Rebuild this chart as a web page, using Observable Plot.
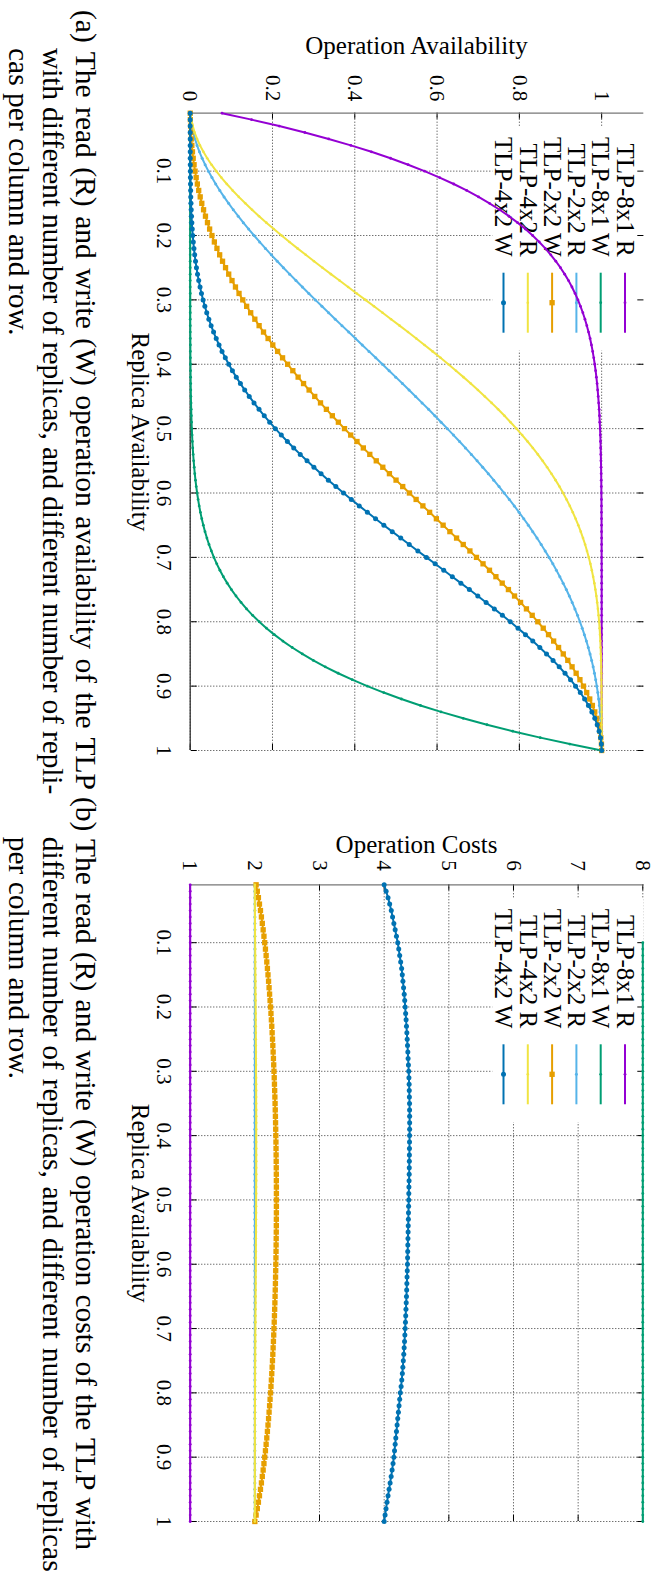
<!DOCTYPE html>
<html><head><meta charset="utf-8">
<script src="https://cdn.jsdelivr.net/npm/d3@7"></script>
<script src="https://cdn.jsdelivr.net/npm/@observablehq/plot@0.6"></script>
<style>
html,body{margin:0;padding:0;background:#fff;overflow:hidden;}
#page{position:absolute;left:0;top:0;width:1573px;height:656px;transform-origin:0 0;transform:translateX(656px) rotate(90deg);font-family:"Liberation Serif",serif;color:#000;background:#fff;}
.sub{position:absolute;top:0;}
.cl{position:absolute;font-size:29.5px;line-height:33.3px;height:33.3px;white-space:nowrap;text-align:justify;text-align-last:justify;}
.cl.last{text-align-last:left;text-align:left;}
</style></head><body><div id="page">
<div class="sub" id="subA" style="left:0;width:786px;"></div>
<div class="sub" id="subB" style="left:786px;width:787px;"></div>
<div class="cl" style="left:10px;top:554px;width:780px;">(a) The read (R) and write (W) operation availability of the TLP</div>
<div class="cl" style="left:48px;top:587.3px;width:739px;letter-spacing:-0.15px;">with different number of replicas, and different number of repli-</div>
<div class="cl last" style="left:48px;top:620.6px;">cas per column and row.</div>
<div class="cl" style="left:797px;top:554px;width:753px;">(b) The read (R) and write (W) operation costs of the TLP with</div>
<div class="cl" style="left:836.7px;top:587.3px;width:735px;">different number of replicas, and different number of replicas</div>
<div class="cl last" style="left:836.7px;top:620.6px;">per column and row.</div>
</div>
<script>
const p = [
0.01,0.02,0.03,0.04,0.05,0.06,0.07,0.08,0.09,0.10,
0.11,0.12,0.13,0.14,0.15,0.16,0.17,0.18,0.19,0.20,
0.21,0.22,0.23,0.24,0.25,0.26,0.27,0.28,0.29,0.30,
0.31,0.32,0.33,0.34,0.35,0.36,0.37,0.38,0.39,0.40,
0.41,0.42,0.43,0.44,0.45,0.46,0.47,0.48,0.49,0.50,
0.51,0.52,0.53,0.54,0.55,0.56,0.57,0.58,0.59,0.60,
0.61,0.62,0.63,0.64,0.65,0.66,0.67,0.68,0.69,0.70,
0.71,0.72,0.73,0.74,0.75,0.76,0.77,0.78,0.79,0.80,
0.81,0.82,0.83,0.84,0.85,0.86,0.87,0.88,0.89,0.90,
0.91,0.92,0.93,0.94,0.95,0.96,0.97,0.98,0.99,1.00];

const seriesNames = ["TLP-8x1 R","TLP-8x1 W","TLP-2x2 R","TLP-2x2 W","TLP-4x2 R","TLP-4x2 W"];
const xTicks = [0.1,0.2,0.3,0.4,0.5,0.6,0.7,0.8,0.9,1];
const availTicks = [0,0.2,0.4,0.6,0.8,1];
const costTicks = [1,2,3,4,5,6,7,8];

// Operation availability
const avail8x1R = [
.0773,.1492,.2163,.2786,.3366,.3904,.4404,.4868,.5297,.5695,
.6063,.6404,.6718,.7008,.7275,.7521,.7748,.7956,.8147,.8322,
.8483,.8630,.8764,.8887,.8999,.9101,.9194,.9278,.9354,.9424,
.9486,.9543,.9594,.9640,.9681,.9719,.9752,.9782,.9808,.9832,
.9853,.9872,.9889,.9903,.9916,.9928,.9938,.9947,.9954,.9961,
.9967,.9972,.9976,.998,.9983,.9986,.9988,.999,.9992,.9993,
.9995,.9996,.9996,.9997,.9998,.9998,.9999,.9999,.9999,.9999,
1,1,1,1,1,1,1,1,1,1,
1,1,1,1,1,1,1,1,1,1,
1,1,1,1,1,1,1,1,1,1];
const avail8x1W = [
0,0,0,0,0,0,0,0,0,0,
0,0,0,0,0,0,0,0,0,0,
0,0,0,0,0,0,0,0,.0001,.0001,
.0001,.0001,.0001,.0002,.0002,.0003,.0004,.0004,.0005,.0007,
.0008,.001,.0012,.0014,.0017,.002,.0024,.0028,.0033,.0039,
.0046,.0053,.0062,.0072,.0084,.0097,.0111,.0128,.0147,.0168,
.0192,.0218,.0248,.0281,.0319,.036,.0406,.0457,.0514,.0576,
.0646,.0722,.0806,.0899,.1001,.1113,.1236,.137,.1517,.1678,
.1853,.2044,.2252,.2479,.2725,.2992,.3282,.3596,.3937,.4305,
.4703,.5132,.5596,.6096,.6634,.7214,.7837,.8508,.9227,1];
const avail2x2R = [
.0005,.002,.0043,.0076,.0118,.0167,.0225,.029,.0363,.0442,
.0528,.062,.0719,.0823,.0933,.1047,.1167,.1291,.142,.1552,
.1688,.1828,.1971,.2117,.2266,.2417,.257,.2726,.2883,.3042,
.3202,.3364,.3526,.3689,.3853,.4017,.4181,.4345,.4509,.4672,
.4835,.4997,.5158,.5319,.5478,.5635,.5792,.5946,.6099,.625,
.6399,.6546,.669,.6833,.6973,.711,.7245,.7377,.7506,.7632,
.7755,.7876,.7993,.8107,.8218,.8325,.8429,.853,.8628,.8722,
.8813,.89,.8984,.9064,.9141,.9214,.9284,.935,.9413,.9472,
.9528,.958,.9629,.9675,.9718,.9757,.9793,.9826,.9855,.9882,
.9906,.9927,.9945,.996,.9973,.9983,.999,.9996,.9999,1];
const avail2x2W = [
.0001,.0004,.001,.0017,.0027,.004,.0055,.0073,.0094,.0118,
.0145,.0174,.0207,.0243,.0282,.0325,.0371,.042,.0472,.0528,
.0587,.065,.0716,.0786,.0859,.0936,.1016,.11,.1187,.1278,
.1372,.147,.1571,.1675,.1782,.1893,.2007,.2124,.2245,.2368,
.2494,.2623,.2755,.289,.3027,.3167,.331,.3454,.3601,.375,
.3901,.4054,.4208,.4365,.4522,.4681,.4842,.5003,.5165,.5328,
.5491,.5655,.5819,.5983,.6147,.6311,.6474,.6636,.6798,.6958,
.7117,.7274,.743,.7583,.7734,.7883,.8029,.8172,.8312,.8448,
.858,.8709,.8833,.8953,.9067,.9177,.9281,.938,.9472,.9558,
.9637,.971,.9775,.9833,.9882,.9924,.9957,.998,.9995,1];
const avail4x2R = [
.0007,.0027,.0062,.0108,.0167,.0238,.0321,.0414,.0519,.0633,
.0757,.089,.1032,.1181,.1339,.1503,.1674,.1851,.2033,.2221,
.2413,.2608,.2808,.301,.3215,.3421,.3629,.3838,.4048,.4258,
.4467,.4676,.4883,.5089,.5293,.5495,.5694,.5891,.6084,.6274,
.646,.6642,.6819,.6993,.7161,.7325,.7484,.7638,.7786,.793,
.8068,.82,.8327,.8449,.8565,.8675,.878,.888,.8974,.9063,
.9147,.9226,.9299,.9368,.9432,.9492,.9547,.9598,.9644,.9687,
.9726,.9761,.9793,.9822,.9848,.9871,.9891,.9909,.9925,.9938,
.995,.996,.9968,.9975,.9981,.9986,.9989,.9992,.9995,.9996,
.9998,.9999,.9999,1,1,1,1,1,1,1];
const avail4x2W = [
0,0,0,0,0,0,.0001,.0001,.0002,.0004,
.0005,.0008,.0011,.0014,.0019,.0025,.0032,.004,.005,.0062,
.0075,.0091,.0109,.0129,.0152,.0178,.0207,.0239,.0274,.0313,
.0356,.0402,.0453,.0508,.0568,.0632,.0701,.0774,.0853,.0937,
.1026,.112,.122,.1325,.1435,.1551,.1673,.18,.1932,.207,
.2214,.2362,.2516,.2675,.2839,.3007,.3181,.3358,.354,.3726,
.3916,.4109,.4306,.4505,.4707,.4911,.5117,.5324,.5533,.5742,
.5952,.6162,.6371,.6579,.6785,.699,.7192,.7392,.7587,.7779,
.7967,.8149,.8326,.8497,.8661,.8819,.8968,.911,.9243,.9367,
.9481,.9586,.9679,.9762,.9833,.9892,.9938,.9973,.9993,1];

// Operation costs
const cost8x1R = [
1,1,1,1,1,1,1,1,1,1, 1,1,1,1,1,1,1,1,1,1,
1,1,1,1,1,1,1,1,1,1, 1,1,1,1,1,1,1,1,1,1,
1,1,1,1,1,1,1,1,1,1, 1,1,1,1,1,1,1,1,1,1,
1,1,1,1,1,1,1,1,1,1, 1,1,1,1,1,1,1,1,1,1,
1,1,1,1,1,1,1,1,1,1, 1,1,1,1,1,1,1,1,1,1];
const cost8x1W = [
null,null,null,null,null,null,null,null,null,8,
8,8,8,8,8,8,8,8,8,8, 8,8,8,8,8,8,8,8,8,8,
8,8,8,8,8,8,8,8,8,8, 8,8,8,8,8,8,8,8,8,8,
8,8,8,8,8,8,8,8,8,8, 8,8,8,8,8,8,8,8,8,8,
8,8,8,8,8,8,8,8,8,8, 8,8,8,8,8,8,8,8,8,8,
8,8,8,8,8,8,8,8,8,8];
const cost2x2R = [
2,2,2,2,2,2,2,2,2,2, 2,2,2,2,2,2,2,2,2,2,
2,2,2,2,2,2,2,2,2,2, 2,2,2,2,2,2,2,2,2,2,
2,2,2,2,2,2,2,2,2,2, 2,2,2,2,2,2,2,2,2,2,
2,2,2,2,2,2,2,2,2,2, 2,2,2,2,2,2,2,2,2,2,
2,2,2,2,2,2,2,2,2,2, 2,2,2,2,2,2,2,2,2,2];
const cost2x2W = [
2.0194,2.0377,2.055,2.0713,2.0868,2.1014,2.1152,2.1283,2.1407,2.1525,
2.1637,2.1744,2.1845,2.1941,2.2032,2.2119,2.2201,2.2279,2.2354,2.2424,
2.2491,2.2555,2.2616,2.2673,2.2727,2.2779,2.2827,2.2873,2.2917,2.2958,
2.2996,2.3032,2.3066,2.3098,2.3127,2.3154,2.318,2.3203,2.3224,2.3243,
2.3261,2.3276,2.3289,2.3301,2.3311,2.3319,2.3325,2.333,2.3332,2.3333,
2.3332,2.333,2.3325,2.3319,2.3311,2.3301,2.3289,2.3276,2.3261,2.3243,
2.3224,2.3203,2.318,2.3154,2.3127,2.3098,2.3066,2.3032,2.2996,2.2958,
2.2917,2.2873,2.2827,2.2779,2.2727,2.2673,2.2616,2.2555,2.2491,2.2424,
2.2354,2.2279,2.2201,2.2119,2.2032,2.1941,2.1845,2.1744,2.1637,2.1525,
2.1407,2.1283,2.1152,2.1014,2.0868,2.0713,2.055,2.0377,2.0194,2];
const cost4x2R = [
2,2,2,2.001,2.001,2.002,2.002,2.003,2.003,2.004,
2.005,2.006,2.006,2.007,2.008,2.009,2.009,2.01,2.011,2.012,
2.013,2.013,2.014,2.015,2.015,2.016,2.017,2.017,2.018,2.018,
2.019,2.019,2.02,2.02,2.02,2.021,2.021,2.021,2.021,2.021,
2.021,2.021,2.021,2.021,2.021,2.021,2.021,2.02,2.02,2.02,
2.019,2.019,2.018,2.018,2.018,2.017,2.016,2.016,2.015,2.015,
2.014,2.013,2.013,2.012,2.011,2.011,2.01,2.009,2.009,2.008,
2.007,2.007,2.006,2.006,2.005,2.004,2.004,2.003,2.003,2.003,
2.002,2.002,2.002,2.001,2.001,2.001,2.001,2,2,2,
2,2,2,2,2,2,2,2,2,2];
const cost4x2W = [
4,4.03,4.06,4.085,4.11,4.13,4.15,4.17,4.19,4.21,
4.225,4.24,4.255,4.27,4.28,4.29,4.3,4.31,4.318,4.325,
4.332,4.339,4.345,4.351,4.356,4.361,4.366,4.37,4.375,4.38,
4.383,4.386,4.388,4.39,4.392,4.393,4.394,4.394,4.394,4.393,
4.392,4.391,4.39,4.389,4.388,4.387,4.385,4.383,4.381,4.38,
4.378,4.376,4.374,4.372,4.37,4.368,4.366,4.364,4.362,4.36,
4.357,4.354,4.351,4.348,4.345,4.341,4.337,4.333,4.329,4.325,
4.32,4.315,4.309,4.303,4.296,4.289,4.281,4.272,4.262,4.25,
4.24,4.23,4.22,4.21,4.2,4.19,4.18,4.17,4.16,4.15,
4.137,4.123,4.108,4.092,4.076,4.06,4.044,4.029,4.014,4];

const FONT = "Liberation Serif";
const styles = [
  {color:"#9400d3", symbol:"circle", r:1.4},
  {color:"#009e73", symbol:"circle", r:1.4},
  {color:"#56b4e9", symbol:"circle", r:1.5},
  {color:"#e69f00", symbol:"square", r:3.0},
  {color:"#f0e442", symbol:"circle", r:1.3},
  {color:"#0072b2", symbol:"circle", r:2.5}
];

function legendBox(index, scales, values, dim) {
  const g = d3.create("svg:g");
  g.append("rect").attr("x", dim.marginLeft + 14).attr("y", dim.marginTop)
    .attr("width", 224).attr("height", 151).attr("fill", "#fff");
  return g.node();
}
function legendEntries(index, scales, values, dim) {
  const g = d3.create("svg:g").attr("font-family", FONT).attr("font-size", 25).attr("fill", "#000");
  seriesNames.forEach((name, i) => {
    const st = styles[i];
    const y = dim.marginTop + 18.3 + 24.3 * i;
    g.append("text").attr("x", dim.marginLeft + 144).attr("y", y).attr("dy", "0.33em")
      .attr("text-anchor", "end").text(name);
    g.append("line").attr("x1", dim.marginLeft + 160).attr("x2", dim.marginLeft + 220)
      .attr("y1", y).attr("y2", y).attr("stroke", st.color).attr("stroke-width", 2);
    const cx = dim.marginLeft + 190;
    if (st.symbol === "square") {
      const s = st.r * Math.sqrt(Math.PI);
      g.append("rect").attr("x", cx - s / 2).attr("y", y - s / 2).attr("width", s).attr("height", s).attr("fill", st.color);
    } else {
      g.append("circle").attr("cx", cx).attr("cy", y).attr("r", st.r).attr("fill", st.color);
    }
  });
  return g.node();
}

function chart({series, yDomain, yTicks, width, marginLeft, marginRight, yLabel, yLabelDx, yTickPad}) {
  const H = 550, mt = 12.7, bottom = 465.3;
  const plotH = bottom - mt, plotW = width - marginLeft - marginRight;
  const tick = {stroke: "#000", strokeOpacity: 1, strokeWidth: 1};
  const marks = [
    Plot.gridX(xTicks, {stroke: "#000", strokeOpacity: 0.8, strokeWidth: 1, strokeDasharray: "1,2"}),
    Plot.gridY(yTicks, {stroke: "#000", strokeOpacity: 0.8, strokeWidth: 1, strokeDasharray: "1,2"}),
    legendBox,
    Plot.gridX(xTicks, {...tick, insetTop: plotH - 6}),
    Plot.gridX(xTicks, {...tick, insetBottom: plotH - 6}),
    Plot.gridY(yTicks, {...tick, insetRight: plotW - 6}),
    Plot.gridY(yTicks, {...tick, insetLeft: plotW - 6}),
    Plot.ruleX([p[0]], {stroke: "#777", strokeWidth: 1.3}),
    Plot.ruleY([yDomain[0]], {stroke: "#333", strokeWidth: 1.3}),
    legendEntries
  ];
  series.forEach((vals, k) => {
    const st = styles[k];
    const rows = p.map((x, i) => ({p: x, v: vals[i]}));
    marks.push(Plot.line(rows, {x: "p", y: "v", stroke: st.color, strokeWidth: 2}));
    marks.push(Plot.dot(rows, {x: "p", y: "v", fill: st.color, r: st.r, symbol: st.symbol, stroke: "none"}));
  });
  marks.push(
    Plot.axisX(xTicks, {tickSize: 0, tickPadding: 18.5, fontSize: 21, fontFamily: FONT, label: null, tickFormat: d => String(d)}),
    Plot.axisY(yTicks, {tickSize: 0, tickPadding: yTickPad, fontSize: 21, fontFamily: FONT, label: null, tickFormat: d => String(d)}),
    Plot.text(["Replica Availability"], {text: d => d, frameAnchor: "bottom", textAnchor: "middle", dy: 58.7, fontSize: 25, fontFamily: FONT, fill: "#000"}),
    Plot.text([yLabel], {text: d => d, frameAnchor: "left", textAnchor: "middle", dx: yLabelDx, rotate: -90, fontSize: 25, fontFamily: FONT, fill: "#000"})
  );
  return Plot.plot({
    width, height: H, marginLeft, marginRight, marginTop: mt, marginBottom: H - bottom,
    x: {domain: [p[0], 1]},
    y: {domain: yDomain},
    style: {fontFamily: FONT, fontSize: "21px", background: "transparent", color: "#000", overflow: "visible"},
    marks
  });
}

document.getElementById("subA").append(chart({
  series: [avail8x1R, avail8x1W, avail2x2R, avail2x2W, avail4x2R, avail4x2W],
  yDomain: [0, 1.1], yTicks: availTicks, width: 786, marginLeft: 112.7, marginRight: 36,
  yLabel: "Operation Availability", yLabelDx: -67.7, yTickPad: 12
}));
document.getElementById("subB").append(chart({
  series: [cost8x1R, cost8x1W, cost2x2R, cost2x2W, cost4x2R, cost4x2W],
  yDomain: [1, 8], yTicks: costTicks, width: 787, marginLeft: 98.3, marginRight: 52,
  yLabel: "Operation Costs", yLabelDx: -40.3, yTickPad: 14
}));
</script></body></html>
